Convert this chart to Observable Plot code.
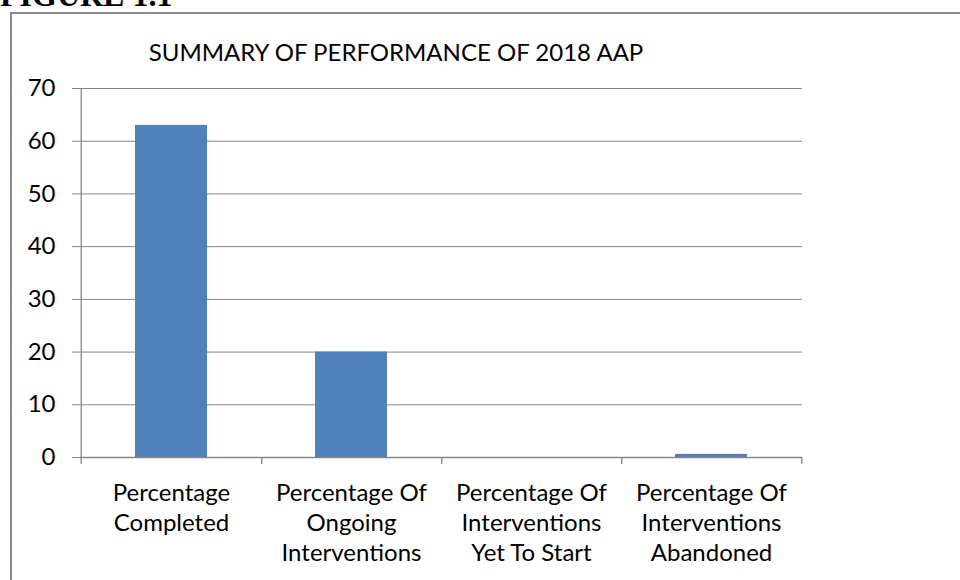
<!DOCTYPE html>
<html>
<head>
<meta charset="utf-8">
<script src="https://cdn.jsdelivr.net/npm/d3@7"></script>
<script src="https://cdn.jsdelivr.net/npm/@observablehq/plot@0.6"></script>
<style>
  html, body { margin: 0; padding: 0; background: #fff; }
  body { width: 960px; height: 580px; position: relative; overflow: hidden; font-family: Lato, sans-serif; }
  #fig { position: absolute; left: 0; top: -21px; line-height: 32px; font-family: "Liberation Serif", serif; font-weight: bold; font-size: 32px; color: #000; white-space: nowrap; }
  #box { position: absolute; left: 10px; top: 12px; width: 1000px; height: 700px; border: 2px solid #8a8a8a; box-sizing: border-box; }
  #title { position: absolute; left: 0; width: 792px; top: 38px; line-height: 28px; text-align: center; font-size: 24px; color: #000; font-family: Lato, sans-serif; white-space: nowrap; }
  #chart { position: absolute; left: 0; top: 0; }
</style>
</head>
<body>
<div id="fig">FIGURE 1.1</div>
<div id="box"></div>
<div id="title">SUMMARY OF PERFORMANCE OF 2018 AAP</div>
<div id="chart"></div>
<script>
const categories = ["Completed", "Ongoing", "YetToStart", "Abandoned"];
const values = [63, 20, 0, 0.6];
const labels = [
  "Percentage\nCompleted",
  "Percentage Of\nOngoing\nInterventions",
  "Percentage Of\nInterventions\nYet To Start",
  "Percentage Of\nInterventions\nAbandoned"
];
const yTicks = [0, 10, 20, 30, 40, 50, 60, 70];

const data = categories.map((c, i) => ({cat: c, value: values[i], label: labels[i]}));

const W = 960, H = 580, mL = 80, mR = 158, mT = 88, mB = 123;
const step = (W - mL - mR) / categories.length;
const grey = "#868686";

const plot = Plot.plot({
  width: W, height: H,
  marginLeft: mL, marginRight: mR, marginTop: mT, marginBottom: mB,
  style: {fontFamily: "Lato, sans-serif", color: "#000", background: "transparent", overflow: "visible"},
  x: {domain: categories, paddingInner: 0.6, paddingOuter: 0.3, axis: null},
  y: {domain: [0, 70], axis: null},
  marks: [
    Plot.gridY(yTicks, {stroke: grey, strokeOpacity: 1, strokeWidth: 1}),
    Plot.barY(data, {x: "cat", y: "value", fill: "#4f81bd"}),
    Plot.ruleY([0], {stroke: grey, strokeWidth: 1.3}),
    Plot.ruleX([categories[0]], {x: d => d, y1: 70, y2: 0, dx: -step / 2, insetBottom: -7, stroke: grey, strokeWidth: 1.3}),
    Plot.ruleX(categories, {x: d => d, y1: 0, y2: 0, dx: step / 2, insetBottom: -7, stroke: grey, strokeWidth: 1.3}),
    Plot.axisY(yTicks, {tickSize: 8, tickPadding: 17, fontSize: 24, stroke: grey, label: null, tickFormat: d => d}),
    Plot.text(data, {x: "cat", y: 0, text: "label", dy: 22, lineAnchor: "top", lineHeight: 1.25, fontSize: 24, fill: "#000"})
  ]
});
document.getElementById("chart").appendChild(plot);
</script>
</body>
</html>
